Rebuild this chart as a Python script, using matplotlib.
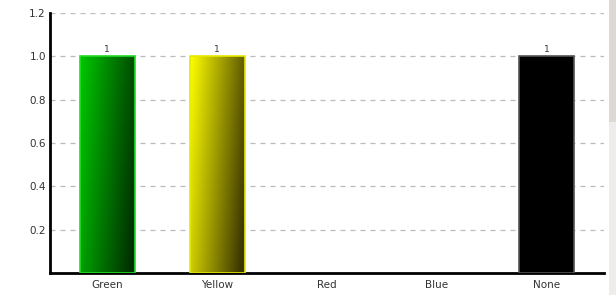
import numpy as np
import matplotlib
matplotlib.use('Agg')
import matplotlib.pyplot as plt
from matplotlib.colors import to_rgb

# data
categories = ['Green', 'Yellow', 'Red', 'Blue', 'None']
counts = [1, 1, 0, 0, 1]
# light / dark end of each bar's gradient
light_colors = ['#00c800', '#ffff00', '#ff0000', '#0000ff', '#000000']
dark_colors = ['#002e00', '#3a3400', '#400000', '#000040', '#000000']
edge_colors = ['#22dd22', '#e8e800', '#ff4040', '#4040ff', '#555555']
y_ticks = [0.2, 0.4, 0.6, 0.8, 1.0, 1.2]

fig = plt.figure(figsize=(6.16, 3.04), dpi=100)
ax = fig.add_axes([0.0812, 0.102, 0.8995, 0.855])

x = np.arange(len(categories))
width = 0.5
bars = ax.bar(x, counts, width=width, color='none', edgecolor='none', zorder=3)

# diagonal gradient fill for each bar
gx, gy = np.meshgrid(np.linspace(0, 1, 60), np.linspace(0, 1, 120))
t = np.clip(0.8 * gx + 0.25 * gy, 0, 1)  # gy=0 is bottom row with origin lower
t = np.clip(0.8 * gx + 0.25 * (1 - gy), 0, 1)
for bar, lc, dc, ec, v in zip(bars, light_colors, dark_colors, edge_colors, counts):
    if v <= 0:
        continue
    x0 = bar.get_x()
    x1 = x0 + bar.get_width()
    c0 = np.array(to_rgb(lc))
    c1 = np.array(to_rgb(dc))
    img = c0[None, None, :] * (1 - t[..., None]) + c1[None, None, :] * t[..., None]
    ax.imshow(img, extent=(x0, x1, 0, v), origin='lower', aspect='auto',
              interpolation='bilinear', zorder=3)
    ax.add_patch(plt.Rectangle((x0, 0), x1 - x0, v, fill=False,
                               edgecolor=ec, linewidth=1.2, zorder=4))
    ax.text(bar.get_x() + bar.get_width() / 2, v + 0.012, str(v),
            ha='center', va='bottom', fontsize=6.5, color='#333333', zorder=5)

ax.set_xlim(-0.52, 4.52)
ax.set_ylim(0, 1.2)
ax.set_xticks(x)
ax.set_xticklabels(categories)
ax.set_yticks(y_ticks)
ax.set_yticklabels(['%.1f' % v for v in y_ticks])
ax.tick_params(axis='both', length=0, labelsize=7.5, colors='#333333')
ax.tick_params(axis='x', pad=5)
ax.tick_params(axis='y', pad=3)

ax.grid(axis='y', linestyle=(0, (4, 4)), color='#bbbbbb', linewidth=0.9, zorder=1)
ax.set_axisbelow(True)

for s in ['top', 'right']:
    ax.spines[s].set_visible(False)
ax.spines['left'].set_linewidth(2)
ax.spines['bottom'].set_linewidth(2)
ax.spines['left'].set_color('black')
ax.spines['bottom'].set_color('black')

# scrollbar strip at the right edge
fig.patches.append(plt.Rectangle((0.988, 0.03), 0.012, 0.97, transform=fig.transFigure,
                                 facecolor='#efedeb', edgecolor='none'))
fig.patches.append(plt.Rectangle((0.988, 0.6), 0.012, 0.4, transform=fig.transFigure,
                                 facecolor='#dcd9d5', edgecolor='none'))

fig.savefig('out.png', dpi=100)
